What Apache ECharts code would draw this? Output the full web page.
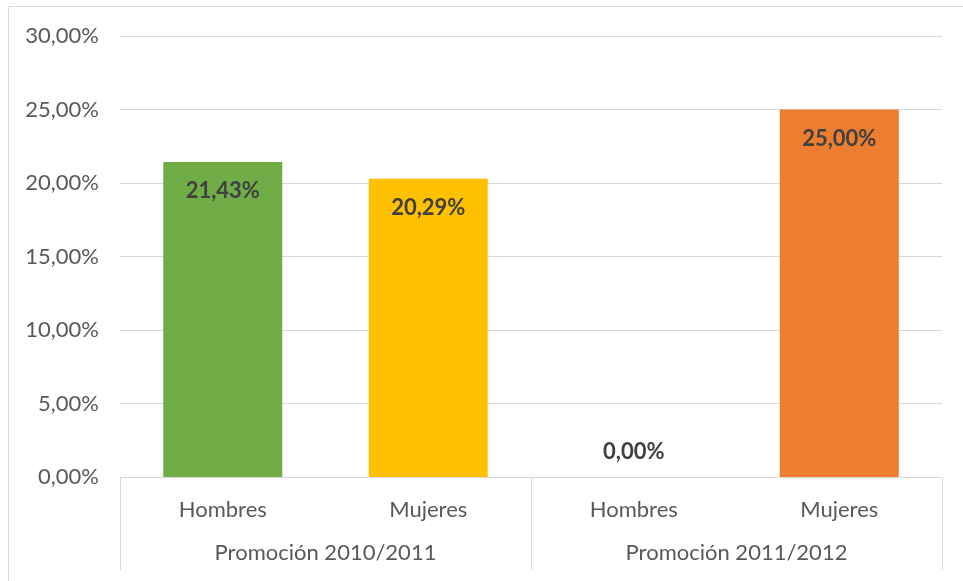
<!DOCTYPE html>
<html>
<head>
<meta charset="utf-8">
<script src="https://cdn.jsdelivr.net/npm/echarts@6/dist/echarts.min.js"></script>
<style>
html,body{margin:0;padding:0;background:#fff;overflow:hidden;}
#frame{position:absolute;left:8px;top:6px;width:1000px;height:700px;border:1px solid #d9d9d9;box-sizing:border-box;}
#chart{position:absolute;left:0;top:0;width:963px;height:581px;}
</style>
</head>
<body>
<div id="frame"></div>
<div id="chart"></div>
<script>
const categories = ["Hombres", "Mujeres", "Hombres", "Mujeres"];
const groups = ["Promoción 2010/2011", "Promoción 2011/2012"];
const values = [21.43, 20.29, 0.00, 25.00];
const colors = ["#70AD47", "#FFC000", "#A5A5A5", "#ED7D31"];
const yTicks = { min: 0, max: 30, interval: 5 };

const fmt = v => v.toFixed(2).replace('.', ',') + '%';
const FONT = 'Lato';

const chart = echarts.init(document.getElementById('chart'));
chart.setOption({
  animation: false,
  grid: { left: 120, right: 21, top: 36, bottom: 104, containLabel: false },
  xAxis: [
    {
      type: 'category',
      data: categories,
      position: 'bottom',
      axisLine: { show: true, lineStyle: { color: '#d9d9d9', width: 1 } },
      axisTick: { show: false },
      axisLabel: { color: '#595959', fontFamily: FONT, fontSize: 22, margin: 22 }
    },
    {
      type: 'category',
      data: groups,
      position: 'bottom',
      axisLine: { show: false },
      axisTick: { show: true, length: 93, alignWithLabel: false, lineStyle: { color: '#d9d9d9', width: 1 } },
      axisLabel: { color: '#595959', fontFamily: FONT, fontSize: 22, margin: 65 }
    }
  ],
  yAxis: {
    type: 'value',
    min: yTicks.min, max: yTicks.max, interval: yTicks.interval,
    axisLine: { show: false },
    axisTick: { show: false },
    splitLine: { lineStyle: { color: '#d9d9d9', width: 1 } },
    axisLabel: { color: '#595959', fontFamily: FONT, fontSize: 22, margin: 21, formatter: v => fmt(v) }
  },
  series: [{
    type: 'bar',
    xAxisIndex: 0,
    barWidth: 119,
    data: values.map((v, i) => ({
      value: v,
      itemStyle: { color: colors[i] },
      label: v === 0 ? { position: 'top', distance: 14 } : { position: 'insideTop', distance: 18 }
    })),
    label: {
      show: true,
      color: '#404040',
      fontFamily: FONT,
      fontWeight: 'bold',
      fontSize: 22,
      formatter: p => fmt(p.value)
    }
  }]
});
</script>
</body>
</html>
